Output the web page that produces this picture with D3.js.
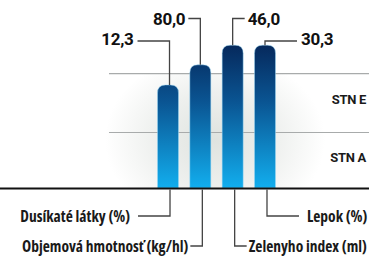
<!DOCTYPE html>
<html>
<head>
<meta charset="utf-8">
<script src="https://cdn.jsdelivr.net/npm/d3@7"></script>
<style>
  body { margin: 0; background: #fff; }
  text { font-family: Roboto, "Liberation Sans", sans-serif; }
  text.cat { font-family: "Open Sans", sans-serif; font-stretch: condensed; }
</style>
</head>
<body>
<div id="chart"></div>
<script>
(function () {

	// values printed above the bars and the bar heights relative to STN A (= 1)
	var labels = ["Dusíkaté látky (%)", "Objemová hmotnosť (kg/hl)", "Zelenyho index (ml)", "Lepok (%)"];
	var values = ["12,3", "80,0", "46,0", "30,3"];
	var levels = [1.84, 2.2, 2.55, 2.55];
	var stnNames = ["STN A", "STN E"];
	var stnLevels = [1, 2.05];

	// label placement: side of the bar and which row (0 = inner, 1 = outer)
	var side = ["left", "left", "right", "right"];
	var outer = [1, 0, 0, 1];

	var width = 369, height = 256;
	var base = 188;

	var svg = d3.select("#chart")
		.append("svg")
		.attr("width", width)
		.attr("height", height);

	var x = d3.scaleBand()
		.domain(d3.range(labels.length))
		.range([157.5, 275.5])
		.paddingInner(0.35)
		.paddingOuter(0);

	var y = d3.scaleLinear()
		.domain([0, 1])
		.range([base, base - 56]);

	var defs = svg.append("defs");

	var glow = defs.append("radialGradient")
		.attr("id", "glow")
		.attr("gradientUnits", "userSpaceOnUse")
		.attr("cx", 215).attr("cy", 140).attr("r", 110)
		.attr("gradientTransform", "translate(215,140) scale(1,0.8) translate(-215,-140)");
	glow.append("stop").attr("offset", "0%").attr("stop-color", "#dfe3df");
	glow.append("stop").attr("offset", "55%").attr("stop-color", "#eef0ee");
	glow.append("stop").attr("offset", "100%").attr("stop-color", "#ffffff");

	var barGrad = defs.append("linearGradient")
		.attr("id", "bar")
		.attr("gradientUnits", "userSpaceOnUse")
		.attr("x1", 0).attr("y1", 45).attr("x2", 0).attr("y2", base);
	barGrad.append("stop").attr("offset", "0%").attr("stop-color", "#06295c");
	barGrad.append("stop").attr("offset", "40%").attr("stop-color", "#0a5593");
	barGrad.append("stop").attr("offset", "100%").attr("stop-color", "#12aeee");

	// soft grey backdrop behind the bars
	svg.append("rect")
		.attr("x", 100)
		.attr("y", y(stnLevels[1]))
		.attr("width", width - 100)
		.attr("height", base - y(stnLevels[1]))
		.attr("fill", "url(#glow)");

	// STN lines
	svg.selectAll(".stn")
		.data(stnLevels)
		.enter().append("line")
		.attr("class", "stn")
		.attr("x1", 109).attr("x2", width)
		.attr("y1", function (d) { return y(d) + 0.5; })
		.attr("y2", function (d) { return y(d) + 0.5; })
		.attr("stroke", "#a8abab")
		.attr("stroke-width", 1.2);

	var bands = [0].concat(stnLevels);
	svg.selectAll(".stn-label")
		.data(stnNames)
		.enter().append("text")
		.attr("class", "stn-label")
		.attr("x", 366)
		.attr("y", function (d, i) { return (y(bands[i]) + y(bands[i + 1])) / 2 + 1.5; })
		.attr("text-anchor", "end")
		.attr("font-size", 13)
		.attr("font-weight", 700)
		.attr("fill", "#1a1a1a")
		.attr("letter-spacing", -0.3)
		.text(function (d) { return d; });

	function barPath(d, i) {
		var x0 = x(i), w = x.bandwidth(), t = y(d), r = 8;
		return "M" + x0 + "," + base +
			"V" + (t + r) +
			"Q" + x0 + "," + t + " " + (x0 + r) + "," + t +
			"H" + (x0 + w - r) +
			"Q" + (x0 + w) + "," + t + " " + (x0 + w) + "," + (t + r) +
			"V" + base + "Z";
	}

	svg.selectAll(".bar")
		.data(levels)
		.enter().append("path")
		.attr("class", "bar")
		.attr("d", barPath)
		.attr("fill", "url(#bar)")
		.attr("stroke", "#9fdcf7")
		.attr("stroke-opacity", 0.6)
		.attr("stroke-width", 0.8);

	// baseline
	svg.append("line")
		.attr("x1", 0).attr("x2", width)
		.attr("y1", base + 0.5).attr("y2", base + 0.5)
		.attr("stroke", "#111")
		.attr("stroke-width", 2);

	// rows indexed by "outer" flag: 0 = inner, 1 = outer
	var topY = [18.5, 41];
	var topBase = [25, 44.5];
	var botY = [246, 216];
	var lead = [12, 32];
	var topGap = [3, 4];
	var botGap = [2, 8];

	function cx(i) { return x(i) + x.bandwidth() / 2; }
	function dir(i) { return side[i] == "left" ? -1 : 1; }

	// value leaders
	svg.selectAll(".vlead")
		.data(levels)
		.enter().append("path")
		.attr("class", "vlead")
		.attr("fill", "none")
		.attr("stroke", "#444")
		.attr("stroke-width", 1.3)
		.attr("d", function (d, i) {
			var xx = cx(i) + (i == 0 ? 1.5 : 0);
			var o = outer[i];
			return "M" + xx + "," + y(d) + "V" + topY[o] + "H" + (xx + lead[o] * dir(i));
		});

	svg.selectAll(".value")
		.data(values)
		.enter().append("text")
		.attr("class", "value")
		.attr("x", function (d, i) {
			var o = outer[i];
			return cx(i) + (i == 0 ? 1.5 : 0) + (lead[o] + topGap[o]) * dir(i);
		})
		.attr("y", function (d, i) { return topBase[outer[i]]; })
		.attr("text-anchor", function (d, i) { return side[i] == "left" ? "end" : "start"; })
		.attr("font-size", 17)
		.attr("font-weight", 700)
		.attr("fill", "#111")
		.attr("letter-spacing", -0.3)
		.text(function (d) { return d; });

	// category leaders under the baseline
	svg.selectAll(".clead")
		.data(labels)
		.enter().append("path")
		.attr("class", "clead")
		.attr("fill", "none")
		.attr("stroke", "#444")
		.attr("stroke-width", 1.3)
		.attr("d", function (d, i) {
			var xx = cx(i) + 2, o = outer[i];
			return "M" + xx + "," + (base + 1.5) + "V" + botY[o] + "H" + (xx + lead[o] * dir(i));
		});

	svg.selectAll(".cat")
		.data(labels)
		.enter().append("text")
		.attr("class", "cat")
		.attr("x", function (d, i) {
			var o = outer[i];
			return cx(i) + 2 + (lead[o] + botGap[o]) * dir(i);
		})
		.attr("y", function (d, i) { return botY[outer[i]] + 5.5; })
		.attr("text-anchor", function (d, i) { return side[i] == "left" ? "end" : "start"; })
		.attr("font-size", 15.5)
		.attr("font-weight", 700)
		.attr("fill", "#1a1a1a")
		.text(function (d) { return d; });

})();
</script>
</body>
</html>
